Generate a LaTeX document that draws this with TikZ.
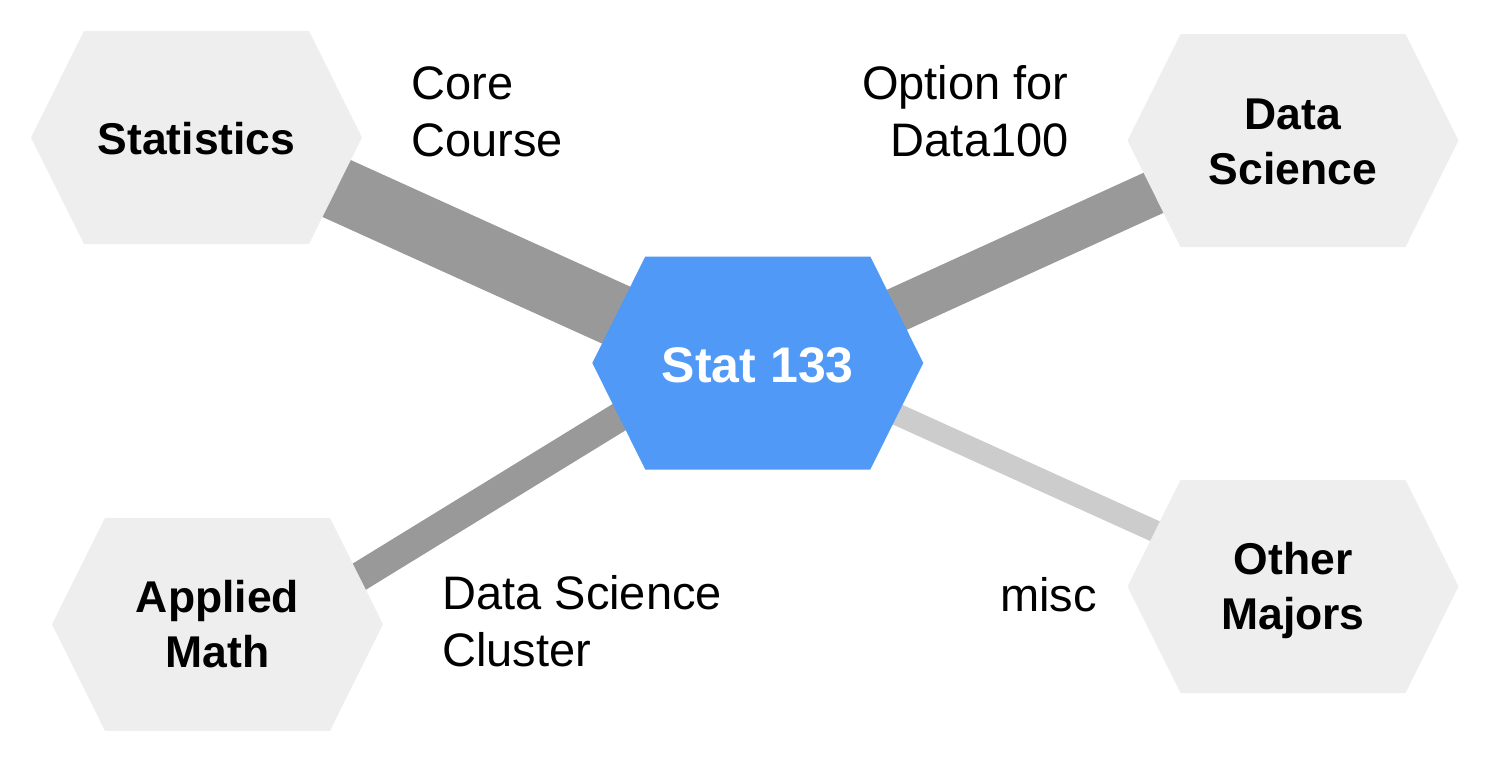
\documentclass[tikz,border=0pt]{standalone}
\usepackage{fontspec}
\setmainfont{Liberation Sans}
\usetikzlibrary{backgrounds}
\definecolor{hexgray}{HTML}{EEEEEE}
\definecolor{bandDark}{HTML}{999999}
\definecolor{bandLight}{HTML}{CCCCCC}
\definecolor{hubblue}{RGB}{80,153,246}
\tikzset{
  hexagon/.pic={\fill[pic actions] (-165.5,0) -- (-112.5,-106.5) -- (112.5,-106.5) -- (165.5,0) -- (112.5,106.5) -- (-112.5,106.5) -- cycle;},
  hexlabel/.style={font=\fontsize{22.25}{27.5}\selectfont\bfseries, align=center, anchor=base, inner sep=0pt},
  hublabel/.style={font=\fontsize{25}{30}\selectfont\bfseries, text=white, anchor=base, inner sep=0pt},
  edgelabel/.style={font=\fontsize{23.5}{28.5}\selectfont, inner sep=0pt},
  band/.style={draw=bandDark, line cap=butt},
  lightband/.style={draw=bandLight, line cap=butt}
}
\begin{document}
\begin{tikzpicture}[x=0.5pt,y=-0.5pt]
\useasboundingbox (0,0) rectangle (1488,778);
% hexagon centres
\coordinate (statsC) at (196.5,137.5);
\coordinate (dsC) at (1293,140.5);
\coordinate (amC) at (217.5,624.3);
\coordinate (omC) at (1293,586.5);
\coordinate (hubC) at (757.8,363);
% hexagons
\pic[fill=hexgray] at (statsC) {hexagon};
\pic[fill=hexgray] at (dsC) {hexagon};
\pic[fill=hexgray] at (amC) {hexagon};
\pic[fill=hexgray] at (omC) {hexagon};
\pic[fill=hubblue] at (hubC) {hexagon};
% hexagon labels (base = baseline of last line)
\node[hexlabel] (stats) at (196.5,154) {Statistics};
\node[hexlabel] (ds) at (1293,184) {Data\\Science};
\node[hexlabel] (am) at (217.5,667) {Applied\\Math};
\node[hexlabel] (om) at (1293,629) {Other\\Majors};
\node[hublabel] (hub) at (757.8,382.7) {Stat 133};
% edge labels
\node[edgelabel, anchor=base west, align=left] (core) at (411,156.7) {Core\\Course};
\node[edgelabel, anchor=base east, align=right] (opt) at (1069,156) {Option for\\Data100};
\node[edgelabel, anchor=base west, align=left] (dsc) at (442,666) {Data Science\\Cluster};
\node[edgelabel, anchor=base west] (misc) at (1000,611) {misc};
% bands
\begin{scope}[on background layer]
\draw[band, line width=31.75pt] ([shift={(0,-12.5)}]statsC) -- ([shift={(0,16.3)}]hubC);
\draw[band, line width=22.35pt] ([shift={(0,-11.3)}]dsC) -- ([shift={(0,10.2)}]hubC);
\draw[band, line width=14.6pt] ([shift={(0,39.4)}]amC) -- ([shift={(0,-31)}]hubC);
\draw[lightband, line width=10.95pt] ([shift={(0,7.2)}]omC) -- ([shift={(0,-11.7)}]hubC);
\end{scope}
\end{tikzpicture}
\end{document}
